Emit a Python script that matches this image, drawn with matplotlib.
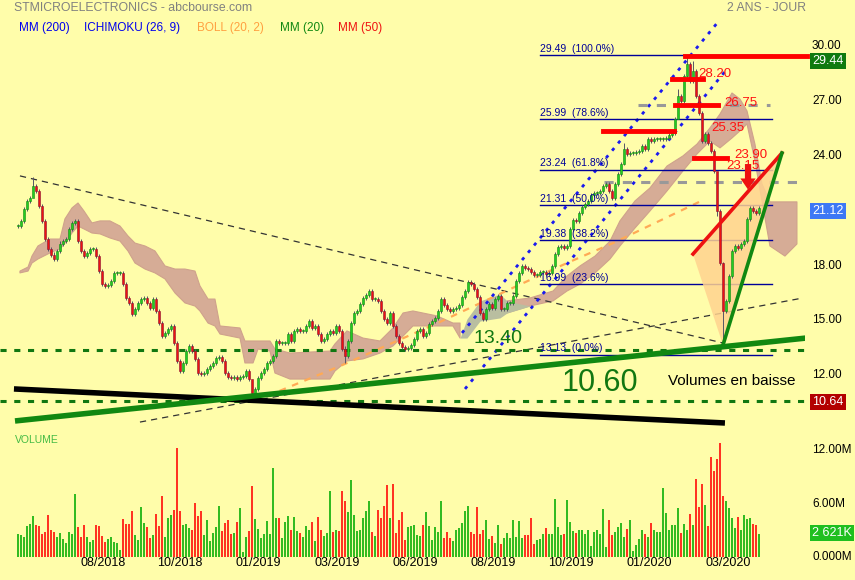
import numpy as np
import matplotlib.pyplot as plt

plt.rcParams['font.family'] = ['Liberation Sans', 'DejaVu Sans']

BG = '#fffdaa'

# closes, one candle = 2 trading days
closes = [
    20.16, 20.44, 21.1, 21.53, 21.7, 22.35, 22.08, 21.26, 20.44, 19.45,
    18.9, 18.6, 18.35, 18.8, 19.2, 19.34, 19.45, 20.0, 20.33, 20.44,
    19.34, 18.8, 18.52, 18.7, 18.9, 18.9, 18.52, 17.71, 17.0, 16.89,
    16.95, 17.16, 17.6, 17.6, 17.6, 17.0, 16.23, 15.95, 15.35, 15.63,
    15.95, 16.18, 16.23, 15.95, 15.68, 16.18, 15.52, 14.86, 14.15, 14.32,
    14.54, 14.70, 13.77, 12.79, 12.24, 12.68, 13.33, 13.61, 13.33, 12.9,
    12.13, 12.08, 12.13, 12.35, 12.52, 12.68, 12.95, 13.0, 12.79, 12.13,
    11.9, 11.86, 11.9, 11.8, 11.9, 11.97, 12.24, 11.8, 11.04, 11.26,
    11.86, 12.13, 12.35, 12.68, 12.79, 13.06, 13.88, 13.77, 13.77, 13.77,
    14.26, 13.88, 14.43, 14.54, 14.43, 14.43, 14.70, 14.97, 14.6, 14.70,
    14.26, 13.88, 13.99, 14.26, 14.43, 14.32, 14.70, 14.43, 13.44, 13.06,
    13.88, 14.86, 15.41, 15.52, 15.9, 16.23, 16.4, 16.61, 16.18, 16.18,
    16.07, 15.52, 15.08, 14.86, 15.41, 14.70, 14.15, 13.77, 13.55, 13.44,
    13.5, 13.66, 13.99, 14.43, 14.54, 14.15, 14.32, 14.8, 14.97, 15.14,
    15.52, 16.18, 15.85, 15.63, 15.52, 15.63, 15.68, 15.85, 16.29, 16.61,
    17.1, 17.0, 16.72, 16.29, 15.41, 15.08, 15.63, 15.9, 15.68, 16.18,
    16.34, 15.63, 15.63, 15.95, 15.95, 16.34, 17.16, 17.6, 17.98, 17.87,
    17.81, 17.65, 17.49, 17.49, 17.65, 17.65, 17.54, 17.6, 17.98, 18.63,
    19.0, 19.07, 18.96, 19.07, 20.0, 20.49, 20.44, 20.87, 21.2, 21.37,
    21.53, 21.86, 21.97, 21.97, 22.08, 22.35, 22.46, 22.08, 21.7, 22.46,
    23.0, 23.55, 24.37, 24.1, 24.15, 24.15, 24.2, 24.26, 24.54, 24.37,
    24.92, 24.81, 24.92, 24.92, 24.92, 24.92, 24.97, 25.14, 25.25, 26.0,
    27.27, 27.0, 28.36, 29.0, 28.09, 28.63, 27.27, 26.34, 24.81, 25.19,
    24.7, 24.26, 23.17, 20.98, 18.14, 15.52, 16.07, 17.43, 18.8, 19.07,
    18.96, 19.18, 19.34, 20.54, 21.15, 20.98, 20.87, 21.12,
]
# notable wicks: candle -> (high, low)
wick_overrides = {5: (22.84, 21.9), 78: (11.4, 10.88), 109: (13.6, 12.68),
                  202: (24.7, 23.5), 220: (27.65, 26.0), 223: (29.45, 28.3),
                  225: (29.2, 28.0), 233: (22.46, 20.7), 235: (18.2, 13.66)}
WICK = 0.12

volumes = [
    2.58, 2.43, 2.25, 3.45, 3.75, 4.6, 3.63, 3.45, 2.58, 2.8,
    4.75, 3.03, 2.77, 2.2, 2.66, 2.02, 1.57, 2.85, 2.58, 7.1,
    3.33, 2.25, 3.63, 2.25, 1.65, 1.87, 3.56, 3.48, 2.32, 1.69,
    2.02, 2.25, 1.72, 1.54, 0.75, 4.27, 3.67, 3.7, 5.2, 2.43,
    1.91, 5.6, 3.82, 3.33, 2.13, 2.5, 4.83, 3.45, 6.8, 2.25,
    4.38, 4.68, 5.24, 12.2, 5.2, 3.56, 3.7, 3.26, 3.0, 6.1,
    4.64, 5.2, 2.5, 4.16, 1.84, 2.7, 3.37, 5.7, 2.88, 3.82,
    4.12, 2.58, 2.7, 3.97, 5.47, 0.6, 2.25, 2.88, 8.0, 4.23,
    3.15, 2.13, 2.58, 4.08, 2.62, 10.0, 4.34, 4.38, 2.13, 3.93,
    4.64, 3.03, 4.46, 2.92, 2.66, 2.2, 3.45, 3.03, 3.9, 1.8,
    4.53, 3.07, 2.36, 2.66, 7.4, 2.8, 3.07, 2.96, 7.45, 6.25,
    5.1, 8.6, 4.72, 2.96, 3.03, 4.34, 5.17, 6.25, 2.85, 2.36,
    5.28, 4.38, 5.73, 8.1,
    4.38, 8.16, 2.7, 4.2, 5.06, 1.91, 3.33, 3.48, 3.6, 2.47,
    2.36, 3.63, 5.06, 3.45, 1.91, 3.37, 2.77, 6.25, 2.13, 2.8,
    2.1, 1.84, 3.03, 3.26, 3.78, 5.2, 5.7, 2.85, 2.55, 5.6,
    2.62, 3.0, 4.2, 2.02, 2.4, 1.57, 3.56, 1.46, 2.13, 2.66,
    2.13, 4.12, 2.25, 4.08, 2.1, 2.5, 2.5, 4.34, 1.46, 1.91,
    2.02, 2.58, 3.22, 2.58, 2.62, 6.55, 3.33, 2.5, 2.55, 6.37,
    3.93, 2.88, 2.66, 3.07, 3.03, 2.58, 3.07, 1.2, 2.8, 3.03,
    2.58, 5.4, 1.12, 4.16, 2.47, 2.85, 3.33, 3.78, 2.25, 3.15,
    4.16, 0.67, 1.31, 2.02, 3.03, 2.58, 2.2, 3.78, 3.03, 2.8,
    2.8, 7.75, 4.9, 3.03, 3.63, 3.56, 5.47, 2.66, 3.7, 3.03,
    4.8, 3.63, 8.8, 5.6, 8.16, 5.88, 3.45, 11.2, 9.7, 11.0,
    12.8, 6.8, 6.25, 5.47, 4.38, 3.26, 4.46, 3.03, 4.68, 4.27,
    4.38, 3.7, 3.56, 2.621,
]

date_labels = ['08/2018', '10/2018', '01/2019', '03/2019', '06/2019',
               '08/2019', '10/2019', '01/2020', '03/2020']
date_pos = [56.7, 108, 160, 212.7, 264.7, 316.7, 368.7, 420.7, 473.3]

# ichimoku cloud (day index, upper, lower)
cloud_d = [1.3, 6.7, 9.3, 13.3, 21.3, 28, 31.3, 36, 40, 44, 49.3, 54.7, 61.3, 68,
           73.3, 78, 84.7, 91.3, 98, 104.7, 111.3, 118, 121.3, 126.7, 131.3, 134.7,
           148, 151.3, 156.7, 160, 168, 171.3, 181.3, 208, 211.3, 219.3, 230, 241.3,
           250, 256.7, 263.3, 279.3, 290, 294.7, 299.3, 308, 321.3, 326, 341.3,
           356.7, 366, 374.7, 384.7, 394.7, 401.3, 411.3, 421.3, 432.7, 443.3,
           452.7, 461.3, 468, 476, 481.3, 486, 491.3, 496, 501.3, 511.3, 519.3]
cloud_top = [17.70, 17.92, 18.52, 19.07, 19.45, 19.45, 20.55, 21.15, 21.42, 20.98,
             20.33, 20.44, 20.44, 20.16, 19.62, 19.23, 19.07, 18.80, 17.98, 17.81,
             17.81, 17.70, 16.89, 16.17, 16.17, 14.70, 14.59, 13.88, 13.88, 13.88,
             13.88, 13.44, 13.22, 13.33, 13.72, 14.43, 14.04, 13.88, 14.59, 15.41,
             15.52, 15.25, 14.86, 14.86, 15.08, 16.07, 16.45, 16.07, 16.23, 16.61,
             17.43, 17.98, 18.52, 19.34, 20.44, 21.53, 22.24, 23.44, 23.99, 24.64,
             25.52, 26.28, 27.43, 27.10, 26.45, 24.64, 22.46, 21.48, 21.48, 21.48]
cloud_low = [17.60, 17.70, 18.14, 18.36, 18.69, 18.91, 19.23, 19.78, 20.16, 20.0,
             19.78, 19.73, 19.51, 19.34, 18.80, 18.14, 17.81, 17.60, 17.27, 16.50,
             15.96, 15.79, 15.52, 14.86, 14.70, 14.26, 14.04, 12.68, 12.68, 13.44,
             13.33, 12.13, 11.80, 11.80, 12.24, 12.79, 12.90, 13.22, 13.61, 14.15,
             14.70, 14.70, 14.70, 14.04, 14.04, 14.97, 15.14, 15.41, 15.79, 16.07,
             16.61, 16.99, 17.60, 18.36, 19.07, 20.05, 20.98, 22.08, 23.17, 24.10,
             24.81, 24.43, 24.97, 25.36, 25.74, 23.72, 21.53, 19.07, 18.52, 19.18]

# moving average drawn as orange dashed
ma_d = [158, 214.7, 281.3, 332.7, 366, 396.7, 456.7]
ma_p = [10.60, 12.51, 14.92, 16.89, 18.14, 19.23, 21.58]

fib_levels = [29.49, 25.99, 23.24, 21.31, 19.38, 16.99, 13.13]
fib_pct = ['100.0%', '78.6%', '61.8%', '50.0%', '38.2%', '23.6%', '0.0%']

# resistances: level, start, end, label position
res_levels = [28.20, 26.75, 25.35, 23.90]
res_start = [436, 438, 390, 450.7]
res_end = [456.7, 466.7, 437.3, 472.7]
res_lab_d = [453.3, 471, 462.3, 477.3]
res_lab_p = [28.47, 26.9, 25.5, 24.05]

# trend lines (day index, price)
dash1 = ([1.3, 470], [22.90, 13.77])
dash2 = ([81.3, 523.3], [9.45, 16.23])
black_line = ([-2.7, 471.3], [11.26, 9.40])
green_line = ([-2, 525.3], [9.51, 14.04])
chan_up = ([296, 466.7], [14.32, 31.31])
chan_low = ([298, 472.7], [11.26, 28.74])
wedge_d = [450, 470, 509.3]
wedge_p = [18.63, 13.66, 24.15]

# ---------------- figure
fig = plt.figure(figsize=(8.55, 5.8), dpi=100, facecolor=BG)
ax = fig.add_axes([0, 1 - 428 / 580, 805 / 855, 428 / 580], facecolor=BG)
vax = fig.add_axes([0, 1 - 557 / 580, 805 / 855, 117 / 580], facecolor=BG)
for a in (ax, vax):
    a.set_xlim(-12, 524.67)
    for s in a.spines.values():
        s.set_visible(False)
    a.set_xticks([])
    a.set_yticks([])
ax.set_ylim(9.126, 32.51)
vax.set_ylim(0, 13.15)

# cloud
cd = np.array(cloud_d)
ct = np.array(cloud_top)
cl = np.array(cloud_low)
grey = (cd >= 297) & (cd <= 326)
ax.fill_between(cd, cl, ct, where=~grey | (cd == 297) | (cd == 326), color='#d6ac96',
                lw=0.8, edgecolor='#cfa28c', interpolate=True, zorder=1)
ax.fill_between(cd, cl, ct, where=grey, color='#b9bea0', lw=0, interpolate=True, zorder=1)

# lines under candles
ax.plot(*dash1, ls=(0, (5, 4)), color='#333333', lw=0.9, zorder=2)
ax.plot(*dash2, ls=(0, (5, 4)), color='#333333', lw=0.9, zorder=2)
ax.plot(ma_d, ma_p, ls=(0, (3, 3)), color='#ffaa55', lw=1.6, zorder=2)
ax.plot(*chan_up, ls=(0, (1.2, 2.2)), color='#1a1aee', lw=2, zorder=2)
ax.plot(*chan_low, ls=(0, (1.2, 2.2)), color='#1a1aee', lw=2, zorder=2)

for lvl, pct in zip(fib_levels, fib_pct):
    ax.plot([348, 502.7], [lvl, lvl], color='#000099', lw=1, zorder=2)
    ax.text(348, lvl + 0.08, f'{lvl:.2f}  ({pct})', color='#000099', fontsize=7.5,
            ha='left', va='bottom', zorder=5)

ax.plot([391, 521.3], [22.55, 22.55], ls=(0, (3, 3)), color='#999999', lw=2.2, zorder=2)
ax.plot([413.3, 501.3], [26.75, 26.75], ls=(0, (3, 3)), color='#999999', lw=2.2, zorder=2)

ax.axhline(13.40, color='#117711', lw=2.2, ls=(0, (2, 2.5)), zorder=2)
ax.axhline(10.60, color='#117711', lw=2.2, ls=(0, (2, 2.5)), zorder=2)

ax.fill(wedge_d, wedge_p, color='#ffd390', alpha=0.85, lw=0, zorder=2)

# candles
c = np.array(closes)
o = np.r_[c[0], c[:-1]]
hi = np.maximum(o, c) + WICK
lo = np.minimum(o, c) - WICK
for k, (h, l) in wick_overrides.items():
    hi[k], lo[k] = h, l
d = np.arange(len(c)) * 2.0
up = c >= o
ax.vlines(d, lo, hi, color='#555566', lw=0.7, zorder=3)
body = np.maximum(np.abs(c - o), 0.06)
ax.bar(d[up], body[up], bottom=np.minimum(o, c)[up], width=1.6, color='#22cc22',
       edgecolor='#118811', lw=0.4, zorder=4)
ax.bar(d[~up], body[~up], bottom=np.minimum(o, c)[~up], width=1.6, color='#ee1111',
       edgecolor='#881133', lw=0.4, zorder=4)

# lines on top
ax.plot(*black_line, color='black', lw=4, solid_capstyle='butt', zorder=5)
ax.plot(*green_line, color='#118811', lw=4, solid_capstyle='butt', zorder=5)
ax.plot([wedge_d[0], wedge_d[2]], [wedge_p[0], wedge_p[2]], color='#ee1111', lw=2.6, zorder=5)
ax.plot([wedge_d[1], wedge_d[2]], [wedge_p[1], wedge_p[2]], color='#118811', lw=2.6, zorder=5)

ax.plot([444.7, 526], [29.44, 29.44], color='#ff0000', lw=3.5, clip_on=False, zorder=5)
for lvl, s, e, ld, lp in zip(res_levels, res_start, res_end, res_lab_d, res_lab_p):
    ax.plot([s, e], [lvl, lvl], color='#ff0000', lw=3.5, zorder=5)
    ax.text(ld, lp, f'{lvl:.2f}', color='#ff1111', fontsize=9.5, ha='left', va='center', zorder=6)
ax.text(472, 23.45, '23.15', color='#ff1111', fontsize=9.5, ha='left', va='center', zorder=6)
ax.annotate('', xy=(486.7, 22.0), xytext=(486.7, 23.7),
            arrowprops=dict(arrowstyle='simple,head_width=1.1,head_length=0.8,tail_width=0.45',
                            color='#ee1111', lw=0), zorder=7)

ax.text(320, 13.55, '13.40', color='#117711', fontsize=14, ha='center', va='bottom', zorder=6)
ax.text(388, 10.75, '10.60', color='#117711', fontsize=22, ha='center', va='bottom', zorder=6)
ax.text(476, 11.68, 'Volumes en baisse', color='black', fontsize=11, ha='center',
        va='center', zorder=6)

# price axis labels
ty = ax.get_yaxis_transform()
xl = 812 / 805
for p in [30, 27, 24, 18, 15, 12]:
    ax.text(xl, p, f'{p:.2f}', transform=ty, fontsize=8.5, ha='left', va='center',
            color='black', clip_on=False)
for p, col, yoff in [(29.44, '#0f7a0f', -0.25), (closes[-1], '#3d78f5', -0.15),
                     (10.64, '#b30000', -0.1)]:
    ax.text(xl, p + yoff, f'{p:.2f}', transform=ty, fontsize=9, ha='left', va='center',
            color='white', clip_on=False,
            bbox=dict(boxstyle='square,pad=0.18', fc=col, ec='none'))

# volume
v = np.array(volumes)
vax.bar(d[up], v[up], width=1.5, color='#33bb22', lw=0)
vax.bar(d[~up], v[~up], width=1.5, color='#ff3322', lw=0)
vt = vax.get_yaxis_transform()
for val, lab in [(12, '12.00M'), (6, '6.00M'), (0, '0.000M')]:
    vax.text(xl, val, lab, transform=vt, fontsize=8.5, ha='left', va='center', clip_on=False)
vax.text(xl, v[-1] + 0.1, '2 621K', transform=vt, fontsize=9, ha='left', va='center',
         color='white', clip_on=False, bbox=dict(boxstyle='square,pad=0.18', fc='#1fbf1f', ec='none'))
vax.text(15 / 805, 1 - 0 / 117, 'VOLUME', transform=vax.transAxes, fontsize=7.5,
         color='#44bb44', ha='left', va='center')
for pos, lab in zip(date_pos, date_labels):
    vax.text(pos, -0.7, lab, fontsize=9, ha='center', va='center', clip_on=False)

# header
fig.text(14 / 855, 1 - 8 / 580, 'STMICROELECTRONICS - abcbourse.com', color='#808080',
         fontsize=8.8, ha='left', va='center')
fig.text(806 / 855, 1 - 8 / 580, '2 ANS - JOUR', color='#808080', fontsize=8.8,
         ha='right', va='center')
legend = [('MM (200)', '#0000ee', 19), ('ICHIMOKU (26, 9)', '#0000ee', 84),
          ('BOLL (20, 2)', '#ffa040', 197), ('MM (20)', '#118811', 280),
          ('MM (50)', '#ee1111', 338)]
for lab, col, px in legend:
    fig.text(px / 855, 1 - 28 / 580, lab, color=col, fontsize=8.5, ha='left', va='center')

fig.savefig('out.png', dpi=100, facecolor=BG)
